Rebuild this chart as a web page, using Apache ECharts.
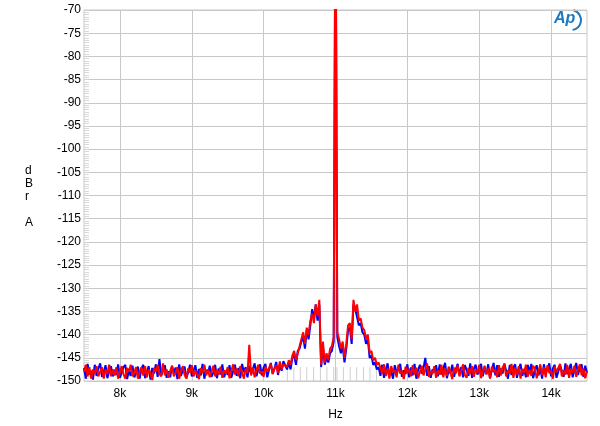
<!DOCTYPE html>
<html><head><meta charset="utf-8">
<script src="https://cdn.jsdelivr.net/npm/echarts@6/dist/echarts.min.js"></script>
<style>html,body{margin:0;padding:0;background:#fff}#c{width:600px;height:426px}</style>
</head><body><div id="c"></div>
<script>
// Frequency sampling of both traces (Hz)
var freqStart = 7500;
var freqStep = 25;
var xTickLabels = ['8k','9k','10k','11k','12k','13k','14k'];
// Red trace (dBr A), one value per 25 Hz from 7500 Hz to 14500 Hz
var redValues = [
-148,-146.5,-149,-147,-149.5,-147.5,-148.5,-146.8,-149,-148,-147,-149.5,-147.5,-148.5,-146.5,-149,
-147.5,-148.8,-147,-149.5,-148,-146.8,-148.5,-149.5,-147.2,-148,-146.5,-149,-148.2,-147,-149.5,-148,
-147,-148.8,-146.8,-149.2,-147.5,-148.5,-149.8,-147.2,-148,-146.5,-148.5,-149,-146.2,-148.8,-147.5,-149.3,
-147.8,-146.8,-149,-148.2,-147,-149.5,-147.8,-146.8,-148.7,-149.5,-147.3,-148.2,-146.6,-149,-147.8,-148.5,
-149.6,-147.2,-148.3,-146.5,-148.8,-147.5,-149.2,-148,-146.7,-149,-147.6,-148.6,-146.9,-149.3,-147.7,-148.4,
-147,-149.4,-147.9,-146.4,-148.6,-147.3,-149,-146.8,-148.1,-149.5,-147.4,-148.3,-142.2,-148.8,-147.1,-149.2,
-147.6,-146.5,-148.4,-147.9,-149.1,-146.9,-148,-147.2,-146.3,-148.5,-147.4,-146.6,-148.2,-145.8,-147.5,-146.4,
-146,-147,-145.5,-146.5,-144.5,-143.5,-145.5,-144,-142.5,-141,-139.5,-142,-138.5,-140,-137,-135.5,
-137.5,-133.5,-136,-132.5,-146.5,-141.5,-146,-144,-145.5,-143,-142.5,-140.5,-40,-139.5,-141,-143,
-141.5,-145,-142,-138,-137.5,-141,-132.5,-135,-133.5,-137,-136.5,-138.5,-139,-141,-140,-144,
-143.5,-145.5,-145,-146.5,-146,
-147.2,-148.5,-146.4,-148.9,-147.3,-149.5,-146.8,-148.1,-147.6,-149.2,-146.5,-148.4,-147.8,-149.6,-146.9,-148.3,
-147.4,-149,-146.6,-148.6,-147.1,-149.4,-148,-146.7,-148.8,-147.5,-146.2,-149.1,-147.9,-148.5,-146.8,-149.3,
-147.7,-148.6,-146.5,-149.2,-147.3,-148.9,-146.9,-148.2,-149.6,-147.1,-148.4,-146.6,-149,-147.8,-146.4,-148.7,
-149.3,-147.2,-148.5,-146.8,-149.1,-147.6,-148.3,-146.5,-149.4,-147.9,-146.7,-148.6,-147.3,-149.5,-146.9,-148.1,
-147.5,-149.2,-146.6,-148.8,-147.1,-146.4,-149,-147.7,-148.4,-146.3,-149.3,-147.2,-148.6,-146.8,-149.5,-147.4,
-148.2,-146.5,-149.1,-147.6,-148.9,-146.7,-147.3,-149.4,-148,-146.4,-148.7,-147.1,-149.2,-146.6,-148.3,-147.8,
-149.5,-146.9,-148.1,-147.2,-146.3,-149,-147.7,-148.6,-146.5,-149.3,-147.4,-148.2,-146.7,-149.1,-147.6,-146.4,
-148.8,-147.3,-149.4,-147.9
];
// Blue trace (dBr A), same sampling
var blueValues = [
-147.2,-149.5,-146.3,-148.6,-147.8,-149.7,-146.5,-148.9,-147.3,-146.2,-149.1,-148,-146.6,-149.4,-147.9,-146.8,
-149,-147.6,-148.7,-146.4,-149.3,-148.2,-147,-146.5,-149.6,-147.8,-148.9,-146.7,-149.2,-148.3,-146.9,-149.5,
-147.3,-146.5,-149.4,-148.1,-146.8,-149.7,-147.2,-148.4,-146.4,-149.1,-145.3,-148.8,-148.5,-146.6,-149.3,-147.9,
-149.2,-146.7,-148.3,-147.1,-149.6,-146.4,-148.9,-147.5,-146.9,-149.4,-148.1,-146.5,-149,-147.7,-146.6,-149.3,
-147.4,-148.8,-146.3,-149.5,-147.6,-148.4,-146.7,-149.1,-148.2,-146.5,-149.4,-147.3,-148.6,-146.4,-149.2,-147.8,
-148.7,-146.6,-149.3,-147.9,-146.5,-148.9,-147.2,-149.4,-146.3,-148.1,-147,-149.2,-146.7,-148.5,-147.4,-146.2,
-149,-147.5,-146.4,-148.8,-147.1,-146.3,-149.2,-147.6,-146.1,-148.4,-147.3,-145.9,-148.7,-146.6,-147.8,-145.7,
-145.5,-147.5,-146,-147.5,-145,-144.5,-146.5,-143.5,-143,-141.5,-140.5,-143,-139,-141,-138,-134.5,
-136.5,-133.5,-137,-133.5,-147,-142.5,-146.5,-145,-146,-144,-143.5,-141.5,-40,-140.5,-142.5,-144,
-142.5,-146,-143,-139,-138.5,-142,-133.5,-134.5,-134.5,-138,-137.5,-139.5,-140,-142,-141,-145,
-144.5,-146.5,-146,-147.5,-147,
-148.9,-146.5,-149.3,-147.6,-146.2,-148.7,-147.9,-149.5,-146.6,-148.2,-147.4,-146.3,-149.1,-147.7,-148.5,-146.4,
-149.2,-147.1,-148.8,-146.3,-149.5,-147.6,-146.5,-148.4,-147.2,-145,-148.9,-146.8,-149.3,-147.5,-148.1,-146.6,
-149,-146.4,-148.6,-147.3,-146.1,-149.4,-147.8,-148.3,-146.5,-149.1,-147.5,-146.3,-148.7,-147,-149.2,-146.6,
-147.6,-148.9,-146.2,-149.3,-147.4,-146.5,-148.6,-147.9,-146.3,-149,-147.2,-148.5,-146.4,-149.4,-147.7,-146.1,
-148.8,-146.6,-149.1,-147.3,-148.4,-146.2,-147.8,-149.5,-146.5,-148.7,-147.1,-146.4,-149.3,-147.6,-146.3,-148.9,
-147.4,-149.2,-146.5,-148.1,-146.3,-149.4,-147.7,-146.6,-148.8,-147.2,-149.5,-146.4,-148.3,-147.5,-146.2,-149,
-147.3,-146.5,-149.3,-148,-146.6,-147.8,-149.1,-146.2,-148.5,-147.4,-146.3,-149.2,-147.6,-146.1,-148.7,-147,
-146.4,-149.1,-146.7,-148.2
];
// Faint grey marker lines near the floor (Hz) and their top level (dBr)
var greyFreqs = [10330,10420,10510,10600,10695,10790,10880,10975,11020,11110,11205,11295,11390,11480,11570];
var greyTop = -147;
var floorLevel = -150;

function pairs(vals){ return vals.map(function(v,i){ return [freqStart + i*freqStep, v]; }); }
var greyData = [];
greyFreqs.forEach(function(f){ greyData.push([f,floorLevel],[f,greyTop],[f,null]); });

var chart = echarts.init(document.getElementById('c'), null, {renderer:'canvas'});
var font = '"Liberation Sans", Arial, sans-serif';
chart.setOption({
  animation:false,
  backgroundColor:'#fff',
  grid:{left:84,right:13,top:10,bottom:42,show:true,borderColor:'#c8c8c8',borderWidth:1,backgroundColor:'transparent'},
  xAxis:{type:'value',min:7500,max:14500,interval:500,
    axisLine:{show:false},axisTick:{show:false},
    splitLine:{show:true,lineStyle:{color:['rgba(0,0,0,0)','#c8c8c8'],width:1}},
    axisLabel:{color:'#000',fontFamily:font,fontSize:12,margin:7,
      formatter:function(v){ if(v%1000!==0) return ''; var k=v/1000; var lab=k+'k'; return xTickLabels.indexOf(lab)>=0?lab:''; }},
    name:'Hz',nameLocation:'middle',nameGap:28,nameTextStyle:{color:'#000',fontFamily:font,fontSize:12}
  },
  yAxis:{type:'value',min:-150,max:-70,interval:5,
    axisLine:{show:false},
    axisTick:{show:true,inside:true,length:5,lineStyle:{color:'#d0d0d0'}},
    minorTick:{show:true,splitNumber:10,length:5,lineStyle:{color:'#d8d8d8'}},
    splitLine:{show:true,lineStyle:{color:'#c8c8c8',width:1}},
    axisLabel:{color:'#000',fontFamily:font,fontSize:12,margin:3}
  },
  graphic:[
    {type:'text',left:25,top:164,style:{text:'d\nB\nr\n\nA',fill:'#000',font:'12px '+font,lineHeight:13,align:'center'}},
    {type:'text',left:554,top:11,style:{text:'Ap',fill:'#1a78c2',font:'italic bold 16px "Liberation Sans", Arial, sans-serif'}},
    {type:'arc',shape:{cx:571,cy:20,r:10,startAngle:-Math.PI*0.42,endAngle:Math.PI*0.45,clockwise:true},style:{stroke:'#1a78c2',lineWidth:2,fill:null}}
  ],
  series:[
    {type:'line',data:greyData,showSymbol:false,connectNulls:false,lineStyle:{color:'#cfcfcf',width:1},z:1,silent:true},
    {type:'line',data:pairs(blueValues),showSymbol:false,lineStyle:{color:'#0000ff',width:2},z:2,clip:true},
    {type:'line',data:pairs(redValues),showSymbol:false,lineStyle:{color:'#ff0000',width:2},z:3,clip:true}
  ]
});
</script></body></html>
